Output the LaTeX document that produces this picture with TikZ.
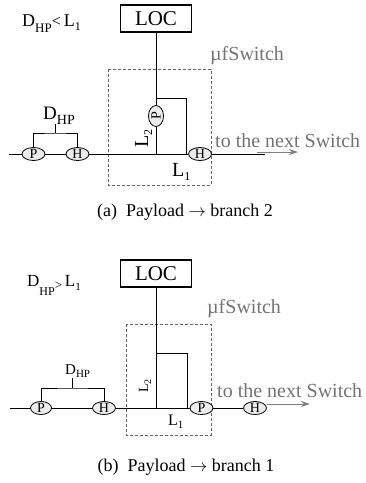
\documentclass[tikz,border=0pt]{standalone}
\usepackage{fontspec}
\setmainfont{Liberation Serif}
\usetikzlibrary{shapes.geometric, arrows.meta, positioning}
\newcommand{\fsz}[1]{\fontsize{#1}{#1}\selectfont}
\newcommand{\lowtext}[3]{\raisebox{-#1}{\fsz{#2}#3}}

\begin{document}
\begin{tikzpicture}[x=1pt, y=-1pt, node distance=44pt,
  locbox/.style={draw, line width=1.4pt, minimum width=71pt, minimum height=27pt, inner sep=0pt, font=\fsz{21}},
  pkt/.style={draw, ellipse, fill=gray!15, line width=0.8pt, minimum width=23pt, minimum height=13pt, inner sep=0pt, font=\fsz{14}},
  vpkt/.style={pkt, rotate=90, minimum width=21pt, minimum height=15pt},
  lbl/.style={inner sep=0pt, anchor=base west},
  graylbl/.style={lbl, text=black!55, font=\fsz{20}},
  wire/.style={line width=1pt},
  swbox/.style={draw=black!60, dashed, dash pattern=on 3pt off 2pt, line width=0.6pt},
  nextarrow/.style={draw=black!50, line width=1pt, -{Stealth[length=9pt, width=6pt]}}]
  \useasboundingbox (0,0) rectangle (365,483);

  % (a) payload takes branch 2
  \node[lbl, font=\fsz{18}] (a-cond) at (22,26) {D\lowtext{6pt}{13}{HP}\lowtext{0pt}{16}{<}\,L\lowtext{4pt}{12}{1}};
  \node[locbox] (a-loc) at (156,18.5) {LOC};
  \node[graylbl] (a-sw) at (210,60) {µfSwitch};
  \draw[swbox] (108,69) rectangle (211,185);
  \coordinate (a-in) at (9,154);
  \node[pkt] (a-p) at (33.5,154) {P};
  \node[pkt, right of=a-p] (a-h) {H};
  \coordinate (a-t) at (156,98);
  \coordinate (a-j) at (156,154);
  \coordinate (a-k) at (186,154);
  \node[pkt] (a-h2) at (200,154) {H};
  \node[vpkt] (a-p2) at (156,116) {P};
  \coordinate (a-out) at (265,154);
  \draw[wire] (a-in) -- (a-p) -- (a-h) -- (a-h2) -- (a-out);
  \draw[wire] (a-loc) -- (a-p2) -- (a-j);
  \draw[wire] (a-t) -| (a-k);
  \coordinate (a-br) at (55.5,133);
  \coordinate (a-stem) at (55.5,124);
  \draw[wire] (a-p.north) |- (a-br) -| (a-h.north);
  \draw[wire] (a-br) -- (a-stem);
  \node[lbl, font=\fsz{19}] (a-dhp) at (43,119) {D\lowtext{5pt}{14}{HP}};
  \node[lbl, rotate=90, font=\fsz{20}] (a-l2) at (148,148) {L\lowtext{4pt}{12}{2}};
  \node[lbl, font=\fsz{20}] (a-l1) at (172,176) {L\lowtext{4pt}{12}{1}};
  \node[graylbl] (a-next) at (215,147) {to the next Switch};
  \coordinate (a-arr-s) at (257,152);
  \coordinate (a-arr-e) at (298,152);
  \draw[nextarrow] (a-arr-s) -- (a-arr-e);
  \node[font=\fsz{18}, anchor=base] (a-cap) at (185,216) {(a)\enspace Payload $\rightarrow$ branch 2};

  % (b) payload takes branch 1
  \node[lbl, font=\fsz{17}] (b-cond) at (27,286) {D\lowtext{9pt}{12}{HP}\lowtext{--3pt}{13}{>}\,L\lowtext{4pt}{11}{1}};
  \node[locbox] (b-loc) at (156,273.5) {LOC};
  \node[graylbl] (b-sw) at (207,313) {µfSwitch};
  \draw[swbox] (126,324) rectangle (211,435);
  \coordinate (b-in) at (10,408);
  \node[pkt, minimum width=21pt] (b-p) at (41,408) {P};
  \node[pkt, right of=b-p, node distance=63pt] (b-h) {H};
  \coordinate (b-t) at (156,353);
  \coordinate (b-j) at (156,408);
  \coordinate (b-k) at (187,408);
  \node[pkt] (b-p2) at (201.5,408) {P};
  \node[pkt, right of=b-p2, node distance=53.5pt] (b-h2) {H};
  \draw[wire] (b-in) -- (b-p) -- (b-h) -- (b-p2) -- (b-h2);
  \draw[wire] (b-loc) -- (b-j);
  \draw[wire] (b-t) -| (b-k);
  \coordinate (b-br) at (72.5,388);
  \coordinate (b-stem) at (72.5,378);
  \draw[wire] (b-p.north) |- (b-br) -| (b-h.north);
  \draw[wire] (b-br) -- (b-stem);
  \node[lbl, font=\fsz{15}] (b-dhp) at (65,374) {D\lowtext{3pt}{11}{HP}};
  \node[lbl, rotate=90, font=\fsz{14}] (b-l2) at (148,393) {L\lowtext{3pt}{10}{2}};
  \node[lbl, font=\fsz{16}] (b-l1) at (168,425) {L\lowtext{3pt}{11}{1}};
  \node[graylbl] (b-next) at (217,397) {to the next Switch};
  \coordinate (b-arr-e) at (310,404);
  \draw[nextarrow] ([yshift=4pt]b-h2.east) -- (b-arr-e);
  \node[font=\fsz{18}, anchor=base] (b-cap) at (186,471) {(b)\enspace Payload $\rightarrow$ branch 1};
\end{tikzpicture}
\end{document}
